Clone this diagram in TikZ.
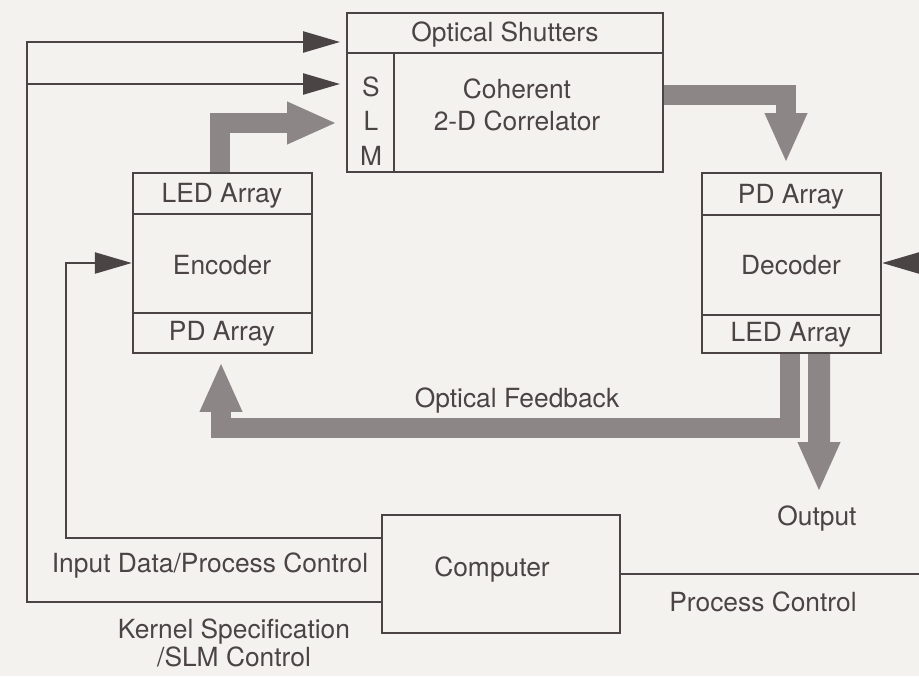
\documentclass[tikz,border=0pt]{standalone}
\usepackage{fontspec}
\setmainfont{TeX Gyre Heros}
\usetikzlibrary{arrows.meta,calc,positioning}
\definecolor{ink}{HTML}{4A4444}
\definecolor{beamgray}{HTML}{8C8686}
\definecolor{paper}{HTML}{F4F2EF}

\begin{document}
\begin{tikzpicture}[x=0.02cm,y=-0.02cm,
  font=\fontsize{15}{18}\selectfont, text=ink,
  box/.style={draw=ink,line width=1.4pt,inner sep=0pt},
  wire/.style={draw=ink,line width=1.4pt},
  sig/.style={wire,-{Triangle[length=0.74cm,width=0.42cm]}},
  beam/.style={draw=beamgray,line width=0.4cm,-{Triangle[length=1cm,width=0.78cm]}}]
% page
\fill[paper] (0,0) rectangle (919,676);
\useasboundingbox (0,0) rectangle (919,676);

% Correlator with shutters and SLM
\node[box,minimum width=6.32cm,minimum height=3.18cm] (corr) at (505,92.5) {};
\draw[wire] ($(corr.north west)+(0,41)$) -- ($(corr.north east)+(0,41)$);
\draw[wire] ($(corr.south west)+(48,0)$) -- ($(corr.north west)+(48,41)$);
\node (shut) at (505,35) {Optical Shutters};
\node[align=center,font=\fontsize{15}{19.5}\selectfont] (slm) at (371,121) {S\\L\\M};
\node[align=center] (cohr) at (517,105) {Coherent\\2-D Correlator};

% Encoder
\node[box,minimum width=3.58cm,minimum height=3.6cm] (enc) at (222.5,263) {};
\draw[wire] ($(enc.north west)+(0,42)$) -- ($(enc.north east)+(0,42)$);
\draw[wire] ($(enc.south west)+(0,-41)$) -- ($(enc.south east)+(0,-41)$);
\node (encled) at (222,196) {LED Array};
\node (enctxt) at (222,265) {Encoder};
\node (encpd) at (222,334) {PD Array};

% Decoder
\node[box,minimum width=3.58cm,minimum height=3.6cm] (dec) at (791.5,263) {};
\draw[wire] ($(dec.north west)+(0,43)$) -- ($(dec.north east)+(0,43)$);
\draw[wire] ($(dec.south west)+(0,-39)$) -- ($(dec.south east)+(0,-39)$);
\node (decpd) at (791,197) {PD Array};
\node (dectxt) at (791,265) {Decoder};
\node (decled) at (791,335) {LED Array};

% Computer
\node[box,minimum width=4.76cm,minimum height=2.36cm] (comp) at (501,574) {};
\node (comptxt) at (492,570) {Computer};

% optical paths
\draw[beam] ([xshift=-0.05cm]enc.north) |- (337,123);
\draw[beam] ([yshift=-0.05cm]corr.east) -| (786,163);
\draw[beam] ([xshift=-0.03cm]dec.south) |- (221,428) -- (221,362);
\draw[beam,line width=0.44cm] ([xshift=0.55cm]dec.south) -- (819,492);

% electrical lines
\coordinate (shutin) at (340,42);
\coordinate (slmin) at (340,84);
\coordinate (bus) at (27,42);
\draw[sig] ([yshift=-0.56cm]comp.west) -| (bus) -- (shutin);
\draw[sig] (bus |- slmin) -- (slmin);
\draw[sig] ([yshift=0.72cm]comp.west) -| ([xshift=-1.32cm]enc.west) -- (enc.west);
\draw[sig] (comp.east) -| ([xshift=1.08cm]dec.east) -- (dec.east);

% labels
\node (fblab) at (517,401) {Optical Feedback};
\node (outlab) at (817,519) {Output};
\node (pclab) at (763,602) {Process Control};
\node (inlab) at (210,566) {Input Data/Process Control};
\node[align=center,font=\fontsize{15}{15.5}\selectfont] (kslab) at (234,643) {Kernel Specification\\/SLM Control};
\end{tikzpicture}
\end{document}
